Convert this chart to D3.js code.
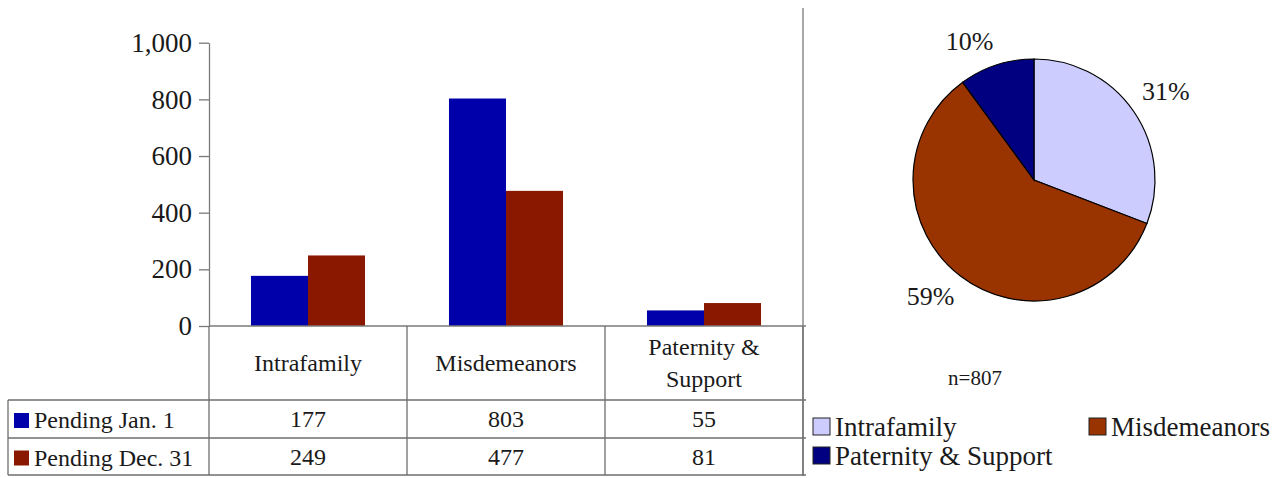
<!DOCTYPE html>
<html><head><meta charset="utf-8">
<script src="https://cdn.jsdelivr.net/npm/d3@7"></script>
<style>
html,body{margin:0;padding:0;background:#fff;}
svg text{font-family:"Liberation Serif","Tinos","Times New Roman",Times !important;}
</style></head>
<body>
<svg id="chart" width="1286" height="478" font-family="Liberation Serif"></svg>
<script>
const categories = ["Intrafamily", "Misdemeanors", "Paternity & Support"];
const categoryLines = [["Intrafamily"], ["Misdemeanors"], ["Paternity &", "Support"]];
const seriesNames = ["Pending Jan. 1", "Pending Dec. 31"];
const pendingJan1 = [177, 803, 55];
const pendingDec31 = [249, 477, 81];
const yTicks = [0, 200, 400, 600, 800, 1000];
const barColors = ["#0000aa", "#8a1800"];
const pieColors = ["#ccccff", "#993300", "#000080"];
const pieNote = "n=807";

const FONT = '"Liberation Serif", "Tinos", "Times New Roman", Times';
const TXT = "#1a1a1a";
const svg = d3.select("#chart");
const series = [pendingJan1, pendingDec31];
const addText = (sel) => sel.append("text")
  .attr("font-family", "Liberation Serif")
  .style("font-family", FONT).style("fill", TXT);

// ---- bar chart ----
const plotLeft = 209, plotRight = 803, yTop = 42.7, yBottom = 326;
const y = d3.scaleLinear().domain([0, 1000]).range([yBottom, yTop]);
const x0 = d3.scaleBand().domain(categories).range([plotLeft, plotRight]);
const groupW = x0.bandwidth() * 0.576;
const x1 = d3.scaleBand().domain(seriesNames)
  .range([(x0.bandwidth() - groupW) / 2, (x0.bandwidth() + groupW) / 2]);

const axisColor = "#7a7a7a";
const yAxis = svg.append("g").attr("transform", `translate(${plotLeft},0)`)
  .call(d3.axisLeft(y).tickValues(yTicks).tickFormat(d3.format(",")).tickSize(10).tickSizeOuter(0));
yAxis.attr("font-family", "Liberation Serif");
yAxis.select(".domain").attr("stroke", axisColor).attr("stroke-width", 1.3);
yAxis.selectAll(".tick line").attr("stroke", axisColor).attr("stroke-width", 1.3);
yAxis.selectAll(".tick text").attr("x", -17)
  .attr("font-family", "Liberation Serif")
  .style("font-family", FONT).style("font-size", "27px").style("fill", TXT);

// bars
categories.forEach((c, ci) => {
  seriesNames.forEach((s, si) => {
    const v = series[si][ci];
    svg.append("rect")
      .attr("x", x0(c) + x1(s)).attr("width", x1.bandwidth())
      .attr("y", y(v)).attr("height", y(0) - y(v))
      .attr("fill", barColors[si]);
  });
});

// baseline & right frame line
svg.append("line").attr("x1", plotLeft).attr("x2", plotRight + 3).attr("y1", y(0)).attr("y2", y(0))
  .attr("stroke", axisColor).attr("stroke-width", 1.3);
svg.append("line").attr("x1", plotRight).attr("x2", plotRight).attr("y1", 8).attr("y2", 476)
  .attr("stroke", axisColor).attr("stroke-width", 1.3);

// ---- data table ----
const tableLeft = 8, headerBottom = 400, row1Bottom = 438, row2Bottom = 475;
const tcol = "#6e6e6e";
const tl = (x1_, y1_, x2_, y2_) => svg.append("line").attr("x1", x1_).attr("y1", y1_).attr("x2", x2_).attr("y2", y2_)
  .attr("stroke", tcol).attr("stroke-width", 1.3);
categories.forEach(c => tl(x0(c), y(0), x0(c), row2Bottom));
tl(plotRight, y(0), plotRight, row2Bottom);
tl(tableLeft, headerBottom, tableLeft, row2Bottom);
tl(tableLeft, headerBottom, plotRight + 3, headerBottom);
tl(tableLeft, row1Bottom, plotRight + 3, row1Bottom);
tl(tableLeft, row2Bottom, plotRight + 3, row2Bottom);

// header labels
categories.forEach((c, ci) => {
  const lines = categoryLines[ci];
  const cx = x0(c) + x0.bandwidth() / 2;
  const midY = (y(0) + headerBottom) / 2;
  const lh = 32;
  lines.forEach((ln, li) => {
    addText(svg).attr("x", cx)
      .attr("y", midY + (li - (lines.length - 1) / 2) * lh + 8)
      .attr("text-anchor", "middle").style("font-size", "24px").text(ln);
  });
});
// rows
const rowTops = [headerBottom, row1Bottom], rowBots = [row1Bottom, row2Bottom];
seriesNames.forEach((s, si) => {
  const midY = (rowTops[si] + rowBots[si]) / 2;
  svg.append("rect").attr("x", 14).attr("y", midY - 6).attr("width", 15).attr("height", 15)
    .attr("fill", barColors[si]);
  addText(svg).attr("x", 34).attr("y", midY + 9).style("font-size", "24px").text(s);
  categories.forEach((c, ci) => {
    addText(svg).attr("x", x0(c) + x0.bandwidth() / 2).attr("y", midY + 8)
      .attr("text-anchor", "middle").style("font-size", "24px").text(series[si][ci]);
  });
});

// ---- pie chart ----
const cx = 1034, cy = 180, r = 121;
const total = d3.sum(pendingDec31);
const pie = d3.pie().sort(null).value(d => d)(pendingDec31);
const arc = d3.arc().innerRadius(0).outerRadius(r);
const pg = svg.append("g").attr("transform", `translate(${cx},${cy})`);
pg.selectAll("path").data(pie).join("path")
  .attr("d", arc).attr("fill", (d, i) => pieColors[i])
  .attr("stroke", "#000").attr("stroke-width", 1.2);

const pct = d3.format(".0%");
const lfs = 26;
pie.forEach((d, i) => {
  const a = (d.startAngle + d.endAngle) / 2;
  const rr = r + 10;
  const px = Math.sin(a) * rr, py = -Math.cos(a) * rr;
  const right = px >= 0, top = py < 0;
  addText(pg)
    .attr("x", px).attr("y", top ? py - 0.22 * lfs : py + 0.8 * lfs)
    .attr("text-anchor", right ? "start" : "end")
    .style("font-size", lfs + "px").text(pct(d.value / total));
});

addText(svg).attr("x", 975).attr("y", 385).attr("text-anchor", "middle")
  .style("font-size", "21px").text(pieNote);

// pie legend
const legendItems = [
  {name: categories[0], x: 813, y: 418},
  {name: categories[1], x: 1089, y: 418},
  {name: categories[2], x: 813, y: 447}
];
legendItems.forEach((it, i) => {
  svg.append("rect").attr("x", it.x).attr("y", it.y).attr("width", 17).attr("height", 17)
    .attr("fill", pieColors[i]).attr("stroke", "#222").attr("stroke-width", 1);
  addText(svg).attr("x", it.x + 22).attr("y", it.y + 18).style("font-size", "27px").text(it.name);
});
</script>
</body></html>
